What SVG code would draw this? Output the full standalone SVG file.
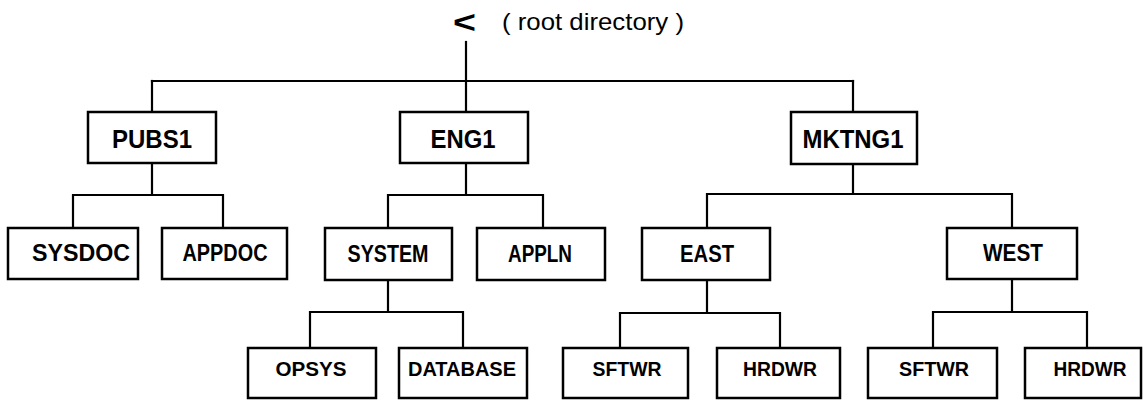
<svg xmlns="http://www.w3.org/2000/svg" width="1144" height="400" viewBox="0 0 1144 400">
  <style>
    .box { fill: #ffffff; stroke: #000000; stroke-width: 2.5; }
    .wire { fill: none; stroke: #000000; stroke-width: 2.2; stroke-linecap: square; }
    .lbl { font-family: "Liberation Sans", Arial, sans-serif; font-weight: bold; fill: #000000; text-anchor: middle; }
    .l1 { font-size: 26px; }
    .l2 { font-size: 23px; }
    .l3 { font-size: 21px; }
    .root { font-family: "Liberation Sans", Arial, sans-serif; fill: #000000; }
  </style>
  <rect width="1144" height="400" fill="#ffffff"/>

  <!-- root marker and caption -->
  <g id="root">
    <text class="root" x="453" y="33" font-size="32" font-weight="bold" textLength="23" lengthAdjust="spacingAndGlyphs">&lt;</text>
    <text class="root" x="502" y="30" font-size="24" textLength="182" lengthAdjust="spacingAndGlyphs">( root directory )</text>
  </g>

  <!-- tree connectors -->
  <g id="connectors" class="wire">
    <path d="M466 42 V112"/>
    <path d="M152 81 H853"/>
    <path d="M152 81 V112"/>
    <path d="M853 81 V112"/>
    <!-- PUBS1 children -->
    <path d="M152 163 V195 M73 195 H223 M73 195 V228 M223 195 V228"/>
    <!-- ENG1 children -->
    <path d="M466 163 V195 M388 195 H543 M388 195 V228 M543 195 V228"/>
    <!-- MKTNG1 children -->
    <path d="M853 164 V194 M707 194 H1012 M707 194 V228 M1012 194 V228"/>
    <!-- SYSTEM children -->
    <path d="M388 280 V312 M310 312 H463 M310 312 V348 M463 312 V348"/>
    <!-- EAST children -->
    <path d="M707 280 V313 M620 313 H780 M620 313 V348 M780 313 V348"/>
    <!-- WEST children -->
    <path d="M1012 279 V312 M933 312 H1087 M933 312 V348 M1087 312 V348"/>
  </g>

  <!-- first level -->
  <g id="pubs1"><rect class="box" x="88" y="112" width="128" height="51"/><text class="lbl l1" x="152" y="148" textLength="80" lengthAdjust="spacingAndGlyphs">PUBS1</text></g>
  <g id="eng1"><rect class="box" x="400" y="112" width="128" height="51"/><text class="lbl l1" x="463" y="148" textLength="65" lengthAdjust="spacingAndGlyphs">ENG1</text></g>
  <g id="mktng1"><rect class="box" x="791" y="112" width="126" height="52"/><text class="lbl l1" x="853" y="148" textLength="101" lengthAdjust="spacingAndGlyphs">MKTNG1</text></g>

  <!-- second level -->
  <g id="sysdoc"><rect class="box" x="8" y="228" width="130" height="51"/><text class="lbl l2" x="81" y="261" textLength="98" lengthAdjust="spacingAndGlyphs">SYSDOC</text></g>
  <g id="appdoc"><rect class="box" x="162" y="228" width="125" height="51"/><text class="lbl l2" x="225" y="261" textLength="85" lengthAdjust="spacingAndGlyphs">APPDOC</text></g>
  <g id="system"><rect class="box" x="325" y="228" width="127" height="52"/><text class="lbl l2" x="388" y="262" textLength="81" lengthAdjust="spacingAndGlyphs">SYSTEM</text></g>
  <g id="appln"><rect class="box" x="477" y="228" width="128" height="52"/><text class="lbl l2" x="540" y="262" textLength="64" lengthAdjust="spacingAndGlyphs">APPLN</text></g>
  <g id="east"><rect class="box" x="642" y="228" width="128" height="52"/><text class="lbl l2" x="707" y="262" textLength="54" lengthAdjust="spacingAndGlyphs">EAST</text></g>
  <g id="west"><rect class="box" x="947" y="228" width="130" height="51"/><text class="lbl l2" x="1013" y="261" textLength="60" lengthAdjust="spacingAndGlyphs">WEST</text></g>

  <!-- third level -->
  <g id="opsys"><rect class="box" x="248" y="348" width="128" height="50"/><text class="lbl l3" x="311" y="376" textLength="71" lengthAdjust="spacingAndGlyphs">OPSYS</text></g>
  <g id="database"><rect class="box" x="399" y="348" width="128" height="50"/><text class="lbl l3" x="462" y="376" textLength="108" lengthAdjust="spacingAndGlyphs">DATABASE</text></g>
  <g id="east-sftwr"><rect class="box" x="563" y="348" width="125" height="50"/><text class="lbl l3" x="627" y="376" textLength="69" lengthAdjust="spacingAndGlyphs">SFTWR</text></g>
  <g id="east-hrdwr"><rect class="box" x="717" y="348" width="123" height="50"/><text class="lbl l3" x="780" y="376" textLength="74" lengthAdjust="spacingAndGlyphs">HRDWR</text></g>
  <g id="west-sftwr"><rect class="box" x="868" y="348" width="129" height="50"/><text class="lbl l3" x="934" y="376" textLength="70" lengthAdjust="spacingAndGlyphs">SFTWR</text></g>
  <g id="west-hrdwr"><rect class="box" x="1025" y="348" width="116" height="50"/><text class="lbl l3" x="1090" y="376" textLength="73" lengthAdjust="spacingAndGlyphs">HRDWR</text></g>
</svg>
